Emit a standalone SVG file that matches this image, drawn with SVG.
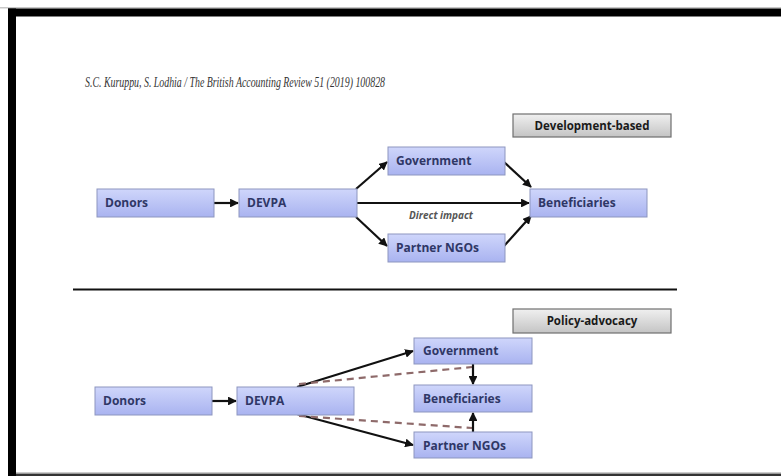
<svg xmlns="http://www.w3.org/2000/svg" width="781" height="476" viewBox="0 0 781 476">
<defs>
<linearGradient id="blue" x1="0" y1="0" x2="0" y2="1">
<stop offset="0" stop-color="#cfd6fb"/>
<stop offset="1" stop-color="#a9b3f0"/>
</linearGradient>
<linearGradient id="gray" x1="0" y1="0" x2="0" y2="1">
<stop offset="0" stop-color="#f0f0f0"/>
<stop offset="1" stop-color="#c4c4c4"/>
</linearGradient>
<marker id="arr" viewBox="0 0 10 10" refX="9" refY="5" markerWidth="4" markerHeight="4" orient="auto">
<path d="M0,0 L10,5 L0,10 z" fill="#111"/>
</marker>
<style>
.node{fill:url(#blue);stroke:#8d96bf;stroke-width:1}
.tag{fill:url(#gray);stroke:#6f6f6f;stroke-width:1.2}
.nt{font-family:"Open Sans","Liberation Sans",sans-serif;font-weight:bold;font-size:12px;fill:#2f3766}
.tt{font-family:"Open Sans","Liberation Sans",sans-serif;font-weight:bold;font-size:11.5px;fill:#1a1a1a}
.c{stroke:#111;stroke-width:2.2;fill:none}
.ca{stroke:#111;stroke-width:2.2;fill:none;marker-end:url(#arr)}
.d{stroke:#8e6a6a;stroke-width:2.2;fill:none;stroke-dasharray:7 5}
</style>
</defs>
<rect x="0" y="0" width="781" height="476" fill="#ffffff"/>
<g id="frame">
<rect x="0" y="7" width="781" height="1.5" fill="#c8c8c8"/>
<rect x="8" y="8.5" width="773" height="8" fill="#000"/>
<rect x="8" y="8.5" width="8" height="467.5" fill="#000"/>
<rect x="16" y="472.5" width="765" height="1.5" fill="#9a9a9a"/>
<rect x="16" y="474" width="765" height="2" fill="#333"/>
</g>
<text x="85" y="87" font-family="'Liberation Serif',serif" font-style="italic" font-size="14" fill="#333" textLength="300" lengthAdjust="spacingAndGlyphs">S.C. Kuruppu, S. Lodhia / The British Accounting Review 51 (2019) 100828</text>
<g id="connectors">
<line class="ca" x1="214" y1="203" x2="238" y2="203"/>
<line class="ca" x1="357" y1="203" x2="529" y2="203"/>
<line class="ca" x1="356" y1="189" x2="387" y2="162"/>
<line class="ca" x1="356" y1="217" x2="387" y2="246"/>
<line class="ca" x1="504" y1="162" x2="531" y2="187"/>
<line class="ca" x1="504" y1="246" x2="531" y2="216"/>
<line x1="73" y1="289.5" x2="677" y2="289.5" stroke="#111" stroke-width="2.2"/>
<line class="ca" x1="212" y1="401" x2="236" y2="401"/>
<line class="ca" x1="297" y1="387" x2="413" y2="351"/>
<line class="ca" x1="297" y1="414" x2="413" y2="445"/>
<line class="d" x1="299" y1="384" x2="472" y2="367"/>
<line class="d" x1="299" y1="416" x2="472" y2="428"/>
<line class="ca" x1="473" y1="364" x2="473" y2="384"/>
<line class="ca" x1="473" y1="432" x2="473" y2="413"/>
</g>
<text x="441" y="219" text-anchor="middle" font-family="'Open Sans','Liberation Sans',sans-serif" font-style="italic" font-weight="bold" font-size="10px" fill="#555">Direct impact</text>
<g id="tag-dev"><rect class="tag" x="513" y="114" width="158" height="23"/><text class="tt" x="592" y="130" text-anchor="middle">Development-based</text></g>
<g id="t-donors"><rect class="node" x="97" y="189" width="117" height="28"/><text class="nt" x="105" y="207">Donors</text></g>
<g id="t-devpa"><rect class="node" x="239" y="189" width="118" height="28"/><text class="nt" x="247" y="207">DEVPA</text></g>
<g id="t-gov"><rect class="node" x="388" y="147" width="117" height="28"/><text class="nt" x="396" y="165">Government</text></g>
<g id="t-ngo"><rect class="node" x="388" y="234" width="117" height="28"/><text class="nt" x="396" y="252">Partner NGOs</text></g>
<g id="t-ben"><rect class="node" x="530" y="189" width="117" height="28"/><text class="nt" x="538" y="207">Beneficiaries</text></g>
<g id="tag-pol"><rect class="tag" x="513" y="309" width="158" height="24"/><text class="tt" x="592" y="325" text-anchor="middle">Policy-advocacy</text></g>
<g id="b-donors"><rect class="node" x="95" y="387" width="117" height="28"/><text class="nt" x="103" y="405">Donors</text></g>
<g id="b-devpa"><rect class="node" x="237" y="387" width="117" height="28"/><text class="nt" x="245" y="405">DEVPA</text></g>
<g id="b-gov"><rect class="node" x="414" y="338" width="118" height="26"/><text class="nt" x="423" y="355">Government</text></g>
<g id="b-ben"><rect class="node" x="414" y="385" width="118" height="27"/><text class="nt" x="423" y="403">Beneficiaries</text></g>
<g id="b-ngo"><rect class="node" x="414" y="432" width="118" height="26"/><text class="nt" x="423" y="450">Partner NGOs</text></g>
</svg>
